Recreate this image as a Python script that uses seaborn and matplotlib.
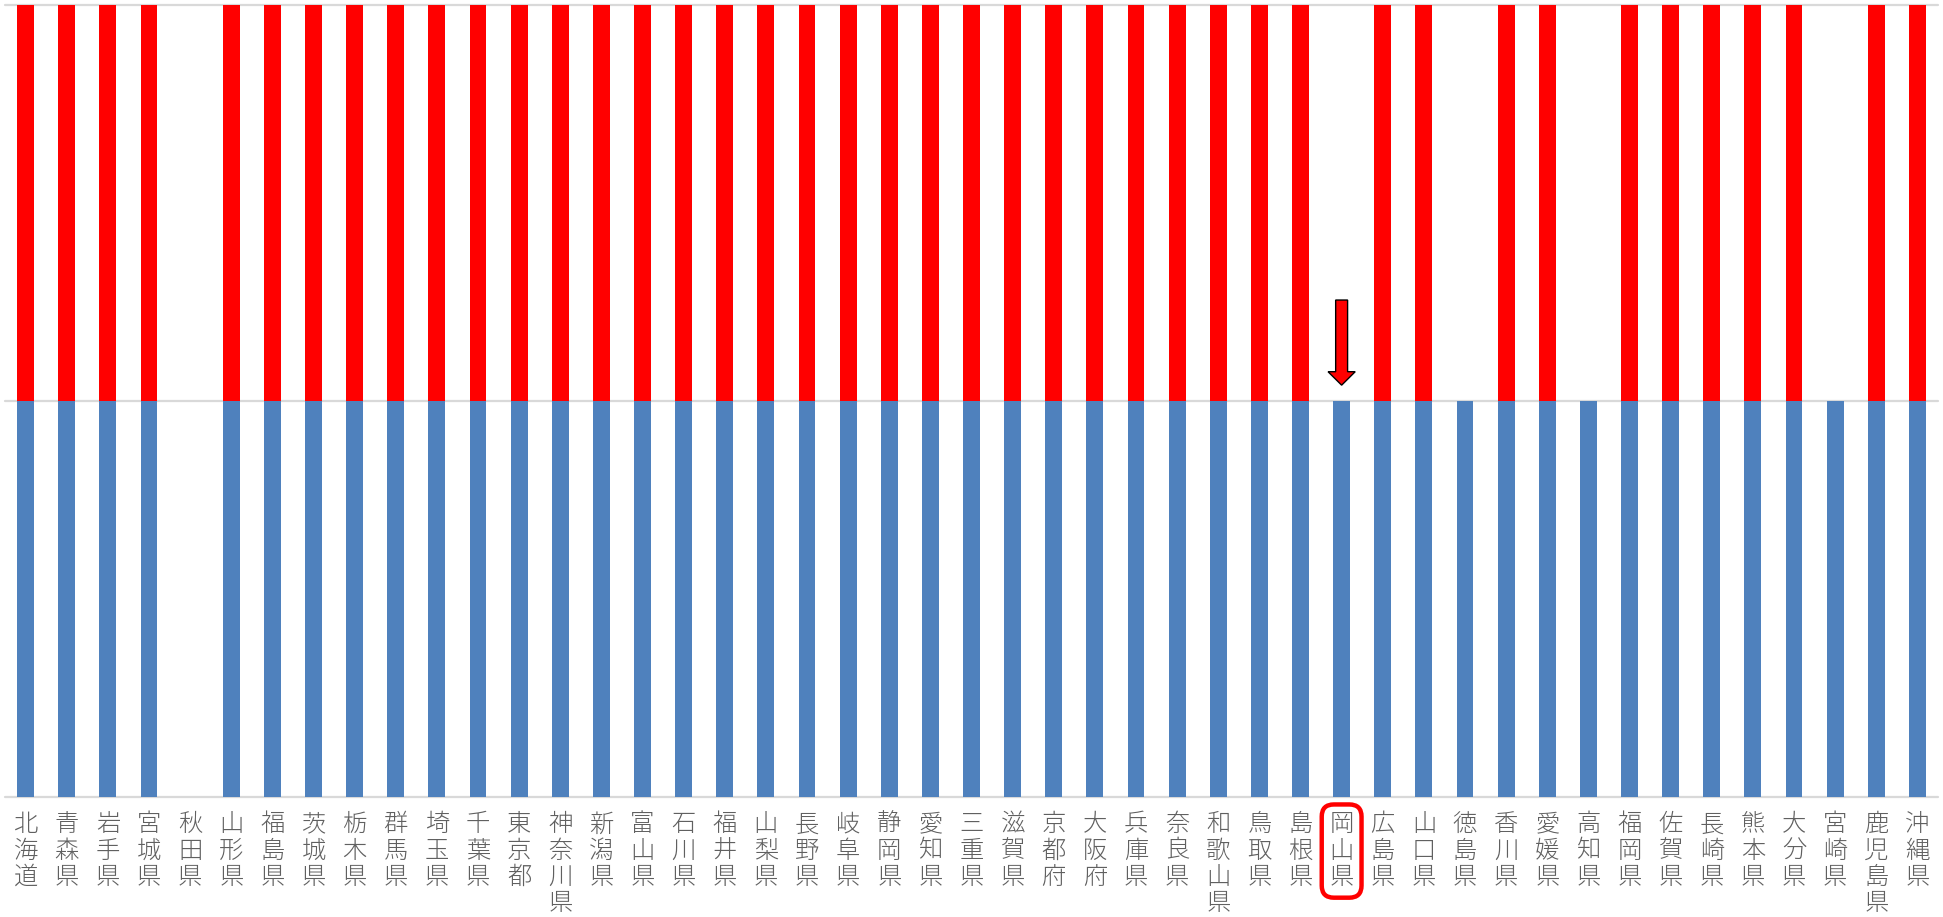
import matplotlib
matplotlib.use("Agg")
import matplotlib.pyplot as plt
from matplotlib.patches import FancyArrow
import seaborn as sns
import pandas as pd

# Prefectures in standard order
prefectures = [
    "北海道", "青森県", "岩手県", "宮城県", "秋田県", "山形県", "福島県",
    "茨城県", "栃木県", "群馬県", "埼玉県", "千葉県", "東京都", "神奈川県",
    "新潟県", "富山県", "石川県", "福井県", "山梨県", "長野県", "岐阜県",
    "静岡県", "愛知県", "三重県", "滋賀県", "京都府", "大阪府", "兵庫県",
    "奈良県", "和歌山県", "鳥取県", "島根県", "岡山県", "広島県", "山口県",
    "徳島県", "香川県", "愛媛県", "高知県", "福岡県", "佐賀県", "長崎県",
    "熊本県", "大分県", "宮崎県", "鹿児島県", "沖縄県",
]
# Lower (blue) and upper (red) segments of each stacked bar
blue_vals = [1, 1, 1, 1, 0, 1, 1, 1, 1, 1, 1, 1, 1, 1, 1, 1, 1, 1, 1, 1, 1, 1, 1, 1,
             1, 1, 1, 1, 1, 1, 1, 1, 1, 1, 1, 1, 1, 1, 1, 1, 1, 1, 1, 1, 1, 1, 1]
red_vals = [1, 1, 1, 1, 0, 1, 1, 1, 1, 1, 1, 1, 1, 1, 1, 1, 1, 1, 1, 1, 1, 1, 1, 1,
            1, 1, 1, 1, 1, 1, 1, 1, 0, 1, 1, 0, 1, 1, 0, 1, 1, 1, 1, 1, 0, 1, 1]
highlight = "岡山県"

df = pd.DataFrame({"pref": prefectures, "blue": blue_vals, "red": red_vals})
df["total"] = df["blue"] + df["red"]

sns.set_theme(style="white")
plt.rcParams["font.family"] = ["Noto Sans CJK JP", "DejaVu Sans"]

fig = plt.figure(figsize=(19.43, 9.17), dpi=100)
ax = fig.add_axes([0.0026, 0.1309, 0.9948, 0.8636])

RED = "#FF0000"
BLUE = "#4F81BD"
GRID = "#D9D9D9"

for yv in (0, 1, 2):
    ax.axhline(yv, color=GRID, lw=1.6, zorder=0, clip_on=False)

# stacked bars: full height in red, lower part overdrawn in blue
sns.barplot(data=df, x="pref", y="total", color=RED, saturation=1,
            width=0.41, linewidth=0, ax=ax, zorder=2)
sns.barplot(data=df, x="pref", y="blue", color=BLUE, saturation=1,
            width=0.41, linewidth=0, ax=ax, zorder=3)

ax.set_xlim(-0.5, len(prefectures) - 0.5)
ax.set_ylim(0, 2)
ax.set_xlabel("")
ax.set_ylabel("")
ax.set_yticks([])
for s in ax.spines.values():
    s.set_visible(False)

ax.set_xticks(range(len(prefectures)))
ax.set_xticklabels(["\n".join(p) for p in prefectures], fontsize=17.5,
                   color="#606060", linespacing=1.07, va="top",
                   fontweight="light")
ax.tick_params(axis="x", length=0, pad=11)

hi = prefectures.index(highlight)
ax.get_xticklabels()[hi].set_bbox(dict(boxstyle="round,pad=0.32,rounding_size=0.5",
                                       edgecolor=RED, facecolor="none", linewidth=3.2))

# downward arrow above the highlighted prefecture
arrow = FancyArrow(hi, 1.255, 0, -0.215, width=0.29, head_width=0.66,
                   head_length=0.034, length_includes_head=True,
                   facecolor=RED, edgecolor="black", linewidth=1.0, zorder=5)
ax.add_patch(arrow)

fig.savefig("out.png", dpi=100, facecolor="white")
